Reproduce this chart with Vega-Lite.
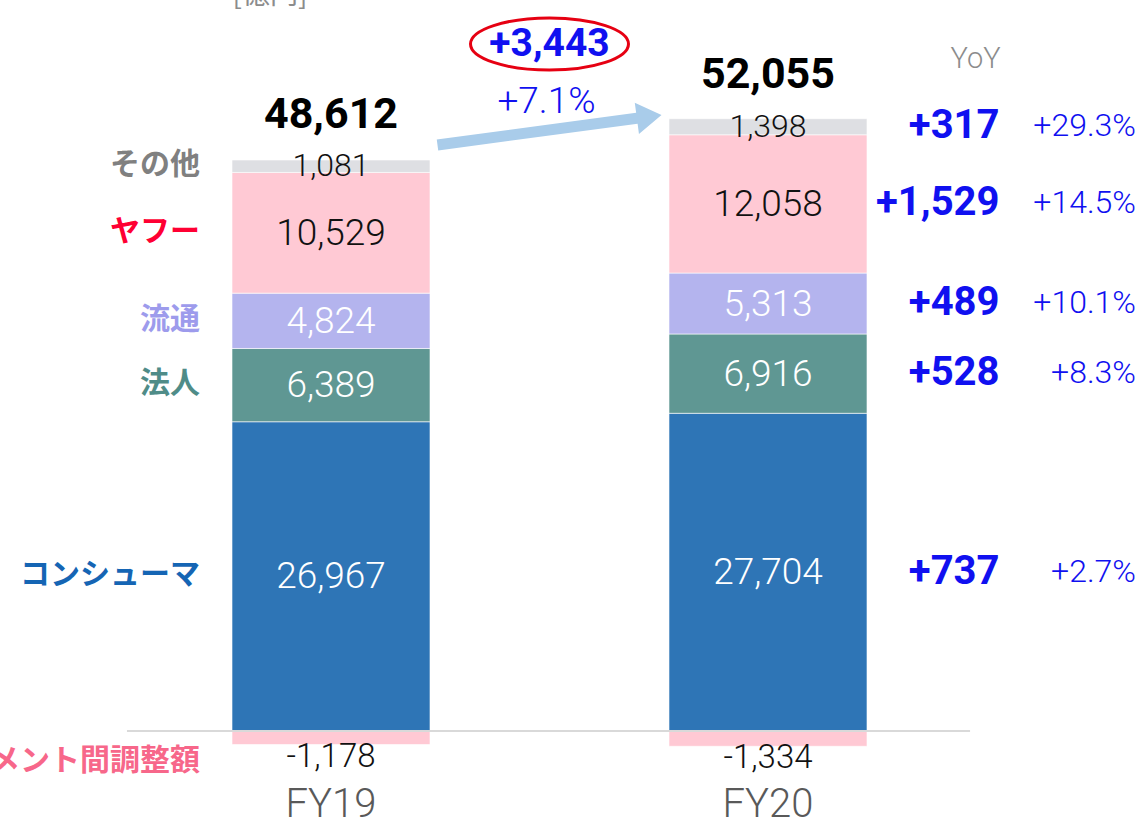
{
  "$schema": "https://vega.github.io/schema/vega-lite/v6.json",
  "width": 1099,
  "height": 825,
  "autosize": {"type": "none"},
  "padding": {"left": 0, "top": 0, "right": 46, "bottom": 0},
  "background": "white",
  "config": {"view": {"stroke": null}, "text": {"font": "Roboto"}},
  "datasets": {
    "segs": [
      {"year": "FY19", "segment": "コンシューマ", "value": 26967, "order": 1, "label": "26,967", "yoy": "", "pct": ""},
      {"year": "FY19", "segment": "法人", "value": 6389, "order": 2, "label": "6,389", "yoy": "", "pct": ""},
      {"year": "FY19", "segment": "流通", "value": 4824, "order": 3, "label": "4,824", "yoy": "", "pct": ""},
      {"year": "FY19", "segment": "ヤフー", "value": 10529, "order": 4, "label": "10,529", "yoy": "", "pct": ""},
      {"year": "FY19", "segment": "その他", "value": 1081, "order": 5, "label": "1,081", "yoy": "", "pct": ""},
      {"year": "FY19", "segment": "セグメント間調整額", "value": -1178, "order": 0, "label": "-1,178", "yoy": "", "pct": ""},
      {"year": "FY20", "segment": "コンシューマ", "value": 27704, "order": 1, "label": "27,704", "yoy": "+737", "pct": "+2.7%"},
      {"year": "FY20", "segment": "法人", "value": 6916, "order": 2, "label": "6,916", "yoy": "+528", "pct": "+8.3%"},
      {"year": "FY20", "segment": "流通", "value": 5313, "order": 3, "label": "5,313", "yoy": "+489", "pct": "+10.1%"},
      {"year": "FY20", "segment": "ヤフー", "value": 12058, "order": 4, "label": "12,058", "yoy": "+1,529", "pct": "+14.5%"},
      {"year": "FY20", "segment": "その他", "value": 1398, "order": 5, "label": "1,398", "yoy": "+317", "pct": "+29.3%"},
      {"year": "FY20", "segment": "セグメント間調整額", "value": -1334, "order": 0, "label": "-1,334", "yoy": "", "pct": ""}
    ],
    "totals": [
      {"year": "FY19", "total": 48612, "label": "48,612"},
      {"year": "FY20", "total": 52055, "label": "52,055"}
    ],
    "notes": [
      {"key": "change", "text": "+3,443"},
      {"key": "rate", "text": "+7.1%"},
      {"key": "yoyhead", "text": "YoY"},
      {"key": "unit", "text": "[億円]"}
    ],
    "axisline": [{"from": "label", "to": "yoy"}]
  },
  "layer": [
    {
      "data": {"name": "segs"},
      "transform": [
        {"stack": "value", "groupby": ["year"], "sort": [{"field": "order", "order": "ascending"}], "as": ["v0", "v1"]}
      ],
      "mark": {"type": "bar", "stroke": "white", "strokeWidth": 0.6},
      "encoding": {
        "x": {"field": "year", "type": "nominal", "axis": null, "scale": {"type": "band", "domain": ["label", "FY19", "change", "FY20", "yoy"], "paddingInner": 0.0938, "paddingOuter": 0.0618}},
        "y": {"field": "v0", "type": "quantitative", "axis": null, "scale": {"domain": [-8197, 63743], "nice": false, "zero": false}},
        "y2": {"field": "v1"},
        "color": {"field": "segment", "type": "nominal", "legend": null, "scale": {"domain": ["コンシューマ", "法人", "流通", "ヤフー", "その他", "セグメント間調整額"], "range": ["#2E75B6", "#5F9793", "#B4B4EE", "#FFC9D4", "#DEDFE3", "#FFC9D4"]}}
      }
    },
    {
      "data": {"name": "axisline"},
      "mark": {"type": "rule", "stroke": "#D9D9D9", "strokeWidth": 2},
      "encoding": {
        "x": {"field": "from", "type": "nominal", "bandPosition": 0.573, "axis": null, "scale": {"type": "band", "domain": ["label", "FY19", "change", "FY20", "yoy"], "paddingInner": 0.0938, "paddingOuter": 0.0618}},
        "x2": {"field": "to", "bandPosition": 0.417},
        "y": {"datum": 0, "type": "quantitative", "axis": null, "scale": {"domain": [-8197, 63743], "nice": false, "zero": false}}
      }
    },
    {
      "data": {"name": "segs"},
      "transform": [
        {"stack": "value", "groupby": ["year"], "sort": [{"field": "order", "order": "ascending"}], "as": ["v0", "v1"]},
        {"calculate": "(datum.v0+datum.v1)/2", "as": "mid"},
        {"filter": "datum.segment === 'コンシューマ' || datum.segment === '法人' || datum.segment === '流通'"}
      ],
      "mark": {"type": "text", "font": "Roboto", "fontWeight": 300, "fontSize": 37, "color": "white", "baseline": "middle", "dy": 1},
      "encoding": {
        "x": {"field": "year", "type": "nominal", "axis": null, "scale": {"type": "band", "domain": ["label", "FY19", "change", "FY20", "yoy"], "paddingInner": 0.0938, "paddingOuter": 0.0618}},
        "y": {"field": "mid", "type": "quantitative", "axis": null, "scale": {"domain": [-8197, 63743], "nice": false, "zero": false}},
        "text": {"field": "label"}
      }
    },
    {
      "data": {"name": "segs"},
      "transform": [
        {"stack": "value", "groupby": ["year"], "sort": [{"field": "order", "order": "ascending"}], "as": ["v0", "v1"]},
        {"calculate": "(datum.v0+datum.v1)/2", "as": "mid"},
        {"filter": "datum.segment === 'ヤフー'"}
      ],
      "mark": {"type": "text", "font": "Roboto", "fontWeight": 300, "fontSize": 37, "color": "#111111", "baseline": "middle", "dy": 1},
      "encoding": {
        "x": {"field": "year", "type": "nominal", "axis": null, "scale": {"type": "band", "domain": ["label", "FY19", "change", "FY20", "yoy"], "paddingInner": 0.0938, "paddingOuter": 0.0618}},
        "y": {"field": "mid", "type": "quantitative", "axis": null, "scale": {"domain": [-8197, 63743], "nice": false, "zero": false}},
        "text": {"field": "label"}
      }
    },
    {
      "data": {"name": "segs"},
      "transform": [
        {"stack": "value", "groupby": ["year"], "sort": [{"field": "order", "order": "ascending"}], "as": ["v0", "v1"]},
        {"calculate": "(datum.v0+datum.v1)/2", "as": "mid"},
        {"filter": "datum.segment === 'その他'"}
      ],
      "mark": {"type": "text", "font": "Roboto", "fontWeight": 300, "fontSize": 32, "color": "#111111", "baseline": "middle", "dy": 0},
      "encoding": {
        "x": {"field": "year", "type": "nominal", "axis": null, "scale": {"type": "band", "domain": ["label", "FY19", "change", "FY20", "yoy"], "paddingInner": 0.0938, "paddingOuter": 0.0618}},
        "y": {"field": "mid", "type": "quantitative", "axis": null, "scale": {"domain": [-8197, 63743], "nice": false, "zero": false}},
        "text": {"field": "label"}
      }
    },
    {
      "data": {"name": "segs"},
      "transform": [
        {"stack": "value", "groupby": ["year"], "sort": [{"field": "order", "order": "ascending"}], "as": ["v0", "v1"]},
        {"filter": "datum.value < 0"}
      ],
      "mark": {"type": "text", "font": "Roboto", "fontWeight": 300, "fontSize": 33, "color": "#111111", "baseline": "top", "dy": -4},
      "encoding": {
        "x": {"field": "year", "type": "nominal", "axis": null, "scale": {"type": "band", "domain": ["label", "FY19", "change", "FY20", "yoy"], "paddingInner": 0.0938, "paddingOuter": 0.0618}},
        "y": {"field": "v1", "type": "quantitative", "axis": null, "scale": {"domain": [-8197, 63743], "nice": false, "zero": false}},
        "text": {"field": "label"}
      }
    },
    {
      "data": {"name": "segs"},
      "transform": [
        {"stack": "value", "groupby": ["year"], "sort": [{"field": "order", "order": "ascending"}], "as": ["v0", "v1"]},
        {"calculate": "(datum.v0+datum.v1)/2", "as": "mid"},
        {"filter": "datum.year === 'FY19' && datum.value > 0"}
      ],
      "mark": {"type": "text", "font": "Noto Sans CJK JP", "fontWeight": "bold", "fontSize": 30, "align": "right", "baseline": "middle", "dx": 87.5, "dy": -1},
      "encoding": {
        "x": {"datum": "label", "type": "nominal", "axis": null, "scale": {"type": "band", "domain": ["label", "FY19", "change", "FY20", "yoy"], "paddingInner": 0.0938, "paddingOuter": 0.0618}},
        "y": {"field": "mid", "type": "quantitative", "axis": null, "scale": {"domain": [-8197, 63743], "nice": false, "zero": false}},
        "text": {"field": "segment"},
        "fill": {"field": "segment", "type": "nominal", "legend": null, "scale": {"domain": ["コンシューマ", "法人", "流通", "ヤフー", "その他", "セグメント間調整額"], "range": ["#1565B4", "#4F8C88", "#9D9BEC", "#FF0033", "#808080", "#F7678A"]}}
      }
    },
    {
      "data": {"name": "segs"},
      "transform": [
        {"stack": "value", "groupby": ["year"], "sort": [{"field": "order", "order": "ascending"}], "as": ["v0", "v1"]},
        {"filter": "datum.year === 'FY19' && datum.value < 0"}
      ],
      "mark": {"type": "text", "font": "Noto Sans CJK JP", "fontWeight": "bold", "fontSize": 30, "align": "right", "baseline": "top", "dx": 87.5, "dy": 1, "color": "#F7678A"},
      "encoding": {
        "x": {"datum": "label", "type": "nominal", "axis": null, "scale": {"type": "band", "domain": ["label", "FY19", "change", "FY20", "yoy"], "paddingInner": 0.0938, "paddingOuter": 0.0618}},
        "y": {"field": "v1", "type": "quantitative", "axis": null, "scale": {"domain": [-8197, 63743], "nice": false, "zero": false}},
        "text": {"field": "segment"}
      }
    },
    {
      "data": {"name": "totals"},
      "mark": {"type": "text", "font": "Roboto", "fontWeight": "bold", "fontSize": 43, "color": "#000000", "baseline": "middle", "dy": -59},
      "encoding": {
        "x": {"field": "year", "type": "nominal", "axis": null, "scale": {"type": "band", "domain": ["label", "FY19", "change", "FY20", "yoy"], "paddingInner": 0.0938, "paddingOuter": 0.0618}},
        "y": {"field": "total", "type": "quantitative", "axis": null, "scale": {"domain": [-8197, 63743], "nice": false, "zero": false}},
        "text": {"field": "label"}
      }
    },
    {
      "data": {"name": "totals"},
      "mark": {"type": "text", "font": "Roboto", "fontWeight": 300, "fontSize": 40, "color": "#595959", "baseline": "middle"},
      "encoding": {
        "x": {"field": "year", "type": "nominal", "axis": null, "scale": {"type": "band", "domain": ["label", "FY19", "change", "FY20", "yoy"], "paddingInner": 0.0938, "paddingOuter": 0.0618}},
        "y": {"datum": -6450, "type": "quantitative", "axis": null, "scale": {"domain": [-8197, 63743], "nice": false, "zero": false}},
        "text": {"field": "year"}
      }
    },
    {
      "data": {"name": "notes"},
      "transform": [{"filter": "datum.key === 'change'"}],
      "mark": {"type": "point", "shape": "M-1.0,-0.049 L0.78,-0.049 L0.78,-0.14 L1.0,0 L0.78,0.14 L0.78,0.049 L-1.0,0.049 Z", "size": 51076, "angle": 352.4, "filled": true, "fill": "#A9CCEA", "opacity": 1, "strokeWidth": 0},
      "encoding": {
        "x": {"datum": "change", "type": "nominal", "axis": null, "scale": {"type": "band", "domain": ["label", "FY19", "change", "FY20", "yoy"], "paddingInner": 0.0938, "paddingOuter": 0.0618}},
        "y": {"datum": 52407, "type": "quantitative", "axis": null, "scale": {"domain": [-8197, 63743], "nice": false, "zero": false}}
      }
    },
    {
      "data": {"name": "notes"},
      "transform": [{"filter": "datum.key === 'change'"}],
      "mark": {"type": "point", "shape": "M-1,0 A1,0.33 0 1,1 1,0 A1,0.33 0 1,1 -1,0 Z", "size": 24964, "filled": false, "fill": "transparent", "stroke": "#E60012", "strokeWidth": 3, "opacity": 1},
      "encoding": {
        "x": {"datum": "change", "type": "nominal", "axis": null, "scale": {"type": "band", "domain": ["label", "FY19", "change", "FY20", "yoy"], "paddingInner": 0.0938, "paddingOuter": 0.0618}},
        "y": {"datum": 59906, "type": "quantitative", "axis": null, "scale": {"domain": [-8197, 63743], "nice": false, "zero": false}}
      }
    },
    {
      "data": {"name": "notes"},
      "transform": [{"filter": "datum.key === 'change'"}],
      "mark": {"type": "text", "font": "Roboto", "fontWeight": "bold", "fontSize": 39, "color": "#1010F0", "baseline": "middle", "dy": 2},
      "encoding": {
        "x": {"datum": "change", "type": "nominal", "axis": null, "scale": {"type": "band", "domain": ["label", "FY19", "change", "FY20", "yoy"], "paddingInner": 0.0938, "paddingOuter": 0.0618}},
        "y": {"datum": 60081, "type": "quantitative", "axis": null, "scale": {"domain": [-8197, 63743], "nice": false, "zero": false}},
        "text": {"field": "text"}
      }
    },
    {
      "data": {"name": "notes"},
      "transform": [{"filter": "datum.key === 'rate'"}],
      "mark": {"type": "text", "font": "Roboto", "fontWeight": 300, "fontSize": 37, "color": "#1010F0", "baseline": "middle", "dy": 2, "dx": -3},
      "encoding": {
        "x": {"datum": "change", "type": "nominal", "axis": null, "scale": {"type": "band", "domain": ["label", "FY19", "change", "FY20", "yoy"], "paddingInner": 0.0938, "paddingOuter": 0.0618}},
        "y": {"datum": 55023, "type": "quantitative", "axis": null, "scale": {"domain": [-8197, 63743], "nice": false, "zero": false}},
        "text": {"field": "text"}
      }
    },
    {
      "data": {"name": "notes"},
      "transform": [{"filter": "datum.key === 'yoyhead'"}],
      "mark": {"type": "text", "font": "Roboto", "fontWeight": 300, "fontSize": 29, "color": "#8C8C8C", "baseline": "middle", "dy": 2, "dx": -11},
      "encoding": {
        "x": {"datum": "yoy", "type": "nominal", "axis": null, "scale": {"type": "band", "domain": ["label", "FY19", "change", "FY20", "yoy"], "paddingInner": 0.0938, "paddingOuter": 0.0618}},
        "y": {"datum": 58773, "type": "quantitative", "axis": null, "scale": {"domain": [-8197, 63743], "nice": false, "zero": false}},
        "text": {"field": "text"}
      }
    },
    {
      "data": {"name": "notes"},
      "transform": [{"filter": "datum.key === 'unit'"}],
      "mark": {"type": "text", "font": "Noto Sans CJK JP", "fontSize": 28, "color": "#8C8C8C", "baseline": "alphabetic", "dx": -61},
      "encoding": {
        "x": {"datum": "FY19", "type": "nominal", "axis": null, "scale": {"type": "band", "domain": ["label", "FY19", "change", "FY20", "yoy"], "paddingInner": 0.0938, "paddingOuter": 0.0618}},
        "y": {"datum": 63394, "type": "quantitative", "axis": null, "scale": {"domain": [-8197, 63743], "nice": false, "zero": false}},
        "text": {"field": "text"}
      }
    },
    {
      "data": {"name": "segs"},
      "transform": [
        {"stack": "value", "groupby": ["year"], "sort": [{"field": "order", "order": "ascending"}], "as": ["v0", "v1"]},
        {"calculate": "(datum.v0+datum.v1)/2", "as": "mid"},
        {"filter": "datum.year === 'FY20' && datum.value > 0"}
      ],
      "mark": {"type": "text", "font": "Roboto", "fontWeight": "bold", "fontSize": 40, "color": "#1010F0", "align": "right", "baseline": "middle", "dx": 13, "dy": -0.5},
      "encoding": {
        "x": {"datum": "yoy", "type": "nominal", "axis": null, "scale": {"type": "band", "domain": ["label", "FY19", "change", "FY20", "yoy"], "paddingInner": 0.0938, "paddingOuter": 0.0618}},
        "y": {"field": "mid", "type": "quantitative", "axis": null, "scale": {"domain": [-8197, 63743], "nice": false, "zero": false}},
        "text": {"field": "yoy"}
      }
    },
    {
      "data": {"name": "segs"},
      "transform": [
        {"stack": "value", "groupby": ["year"], "sort": [{"field": "order", "order": "ascending"}], "as": ["v0", "v1"]},
        {"calculate": "(datum.v0+datum.v1)/2", "as": "mid"},
        {"filter": "datum.year === 'FY20' && datum.value > 0"}
      ],
      "mark": {"type": "text", "font": "Roboto", "fontWeight": 300, "fontSize": 32, "color": "#1010F0", "align": "right", "baseline": "middle", "dx": 149.5, "dy": -0.5},
      "encoding": {
        "x": {"datum": "yoy", "type": "nominal", "axis": null, "scale": {"type": "band", "domain": ["label", "FY19", "change", "FY20", "yoy"], "paddingInner": 0.0938, "paddingOuter": 0.0618}},
        "y": {"field": "mid", "type": "quantitative", "axis": null, "scale": {"domain": [-8197, 63743], "nice": false, "zero": false}},
        "text": {"field": "pct"}
      }
    }
  ]
}
